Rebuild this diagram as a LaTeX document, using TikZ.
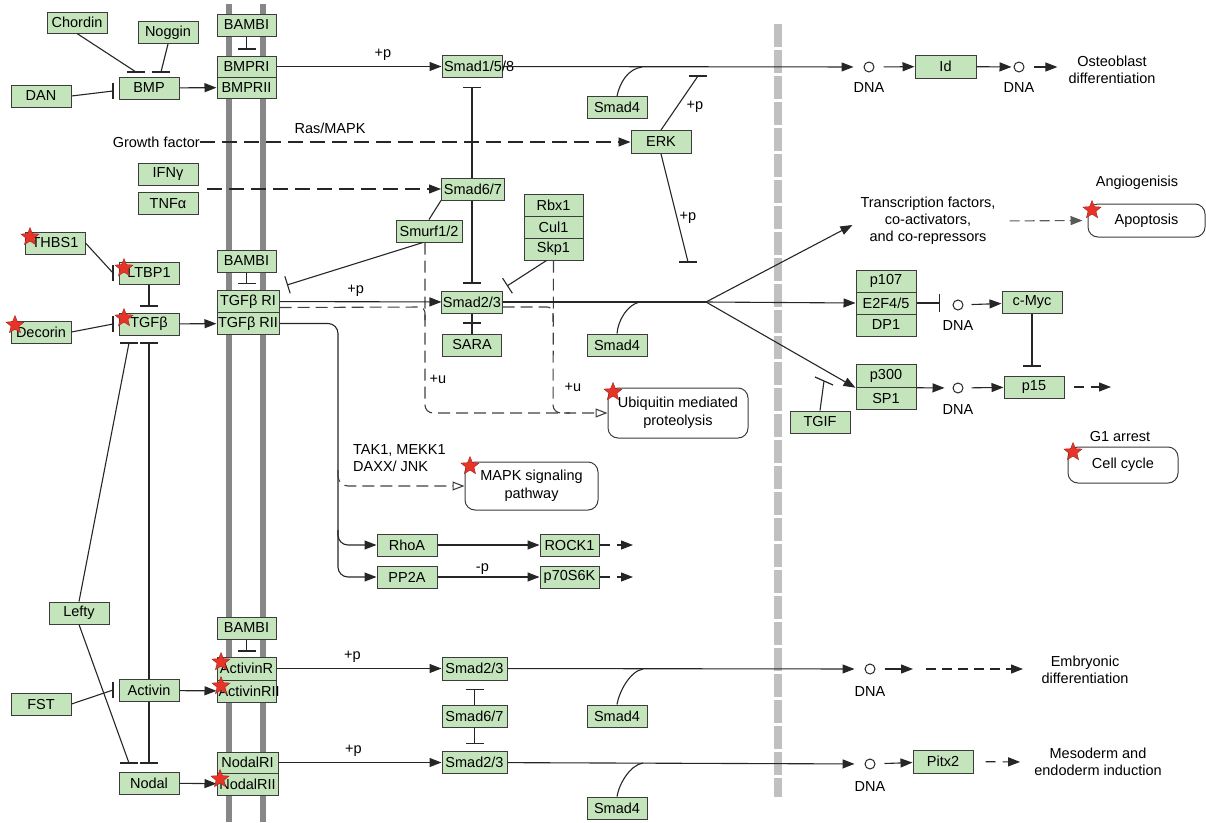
\documentclass[tikz,border=0pt]{standalone}
\usepackage{fontspec}
\setmainfont{Liberation Sans}
\usetikzlibrary{arrows.meta,shapes.geometric}
\definecolor{genegreen}{RGB}{196,229,187}
\definecolor{boxline}{RGB}{60,60,60}
\definecolor{membrane}{RGB}{135,135,135}
\definecolor{nucmem}{RGB}{192,192,192}
\definecolor{starred}{RGB}{232,52,40}
\newcommand{\barH}[1]{\draw[line width=1.2pt,black!85] ([xshift=-9pt]#1) -- ([xshift=9pt]#1);}
\newcommand{\barV}[1]{\draw[line width=1.2pt,black!85] ([yshift=-8pt]#1) -- ([yshift=8pt]#1);}

\begin{document}
\begin{tikzpicture}[x=1pt,y=-1pt,
	font=\fontsize{14.5}{17}\selectfont,
	gene/.style={draw=boxline, fill=genegreen, line width=1pt, minimum width=60pt, minimum height=22pt, inner sep=1pt},
	pathway/.style={draw=boxline, fill=white, line width=1pt, rounded corners=10pt, align=center, inner sep=1pt, font=\fontsize{14.5}{18}\selectfont},
	hit/.style={star, star points=5, star point ratio=2.3, fill=starred, draw=starred!70!black, minimum size=19pt, inner sep=0pt},
	dna/.style={circle, draw=black!85, line width=1pt, minimum size=10pt, inner sep=0pt},
	lbl/.style={inner sep=0pt},
	link/.style={line width=1.1pt, draw=black!85},
	act/.style={link, -{Triangle[length=12pt,width=9pt]}},
	inh/.style={link, -{Bar[width=18pt]}},
	dashact/.style={act, dash pattern=on 15pt off 7pt},
	shortdash/.style={act, dash pattern=on 10pt off 7pt},
	dline/.style={link, draw=black!75, dash pattern=on 12pt off 6pt},
	ubq/.style={dline, -{Triangle[open,length=12pt,width=9pt]}},
	]
	\useasboundingbox (0,0) rectangle (1206,822);
	\draw[draw=membrane, line width=6pt] (229,4) -- (229,822);
	\draw[draw=membrane, line width=6pt] (263,4) -- (263,822);
	\draw[draw=nucmem, line width=8pt, dash pattern=on 23pt off 3pt] (778,24) -- (778,797);

	\node[gene, minimum height=21pt] (chordin) at (77,22.5) {Chordin};
	\node[gene] (noggin) at (168,32.5) {Noggin};
	\node[gene] (dan) at (41,96) {DAN};
	\node[gene] (bmp) at (149,88) {BMP};
	\node[gene, minimum width=59pt] (bambia) at (246.5,25) {BAMBI};
	\node[gene, minimum width=59pt, minimum height=21pt] (bmpri) at (246.5,66.5) {BMPRI};
	\node[gene, minimum width=59pt, minimum height=21pt] (bmprii) at (246.5,87.5) {BMPRII};
	\node[gene] (ifng) at (168,174) {IFNγ};
	\node[gene] (tnfa) at (168,203.5) {TNFα};
	\node[lbl, anchor=east] (growth) at (200,142) {Growth factor};
	\node[lbl] (rasmapk) at (330,128) {Ras/MAPK};
	\node[gene] (smad158) at (472,66.5) {\makebox[56pt][l]{Smad1/5/8}};
	\node[gene] (smad4a) at (617,107.5) {Smad4};
	\node[gene, minimum height=23pt] (erk) at (661,142) {ERK};
	\node[gene, minimum width=63pt] (smad67a) at (473,189) {Smad6/7};
	\node[gene, minimum width=66pt] (smurf) at (429,231) {Smurf1/2};
	\node[gene, minimum width=59pt] (rbx1) at (553.5,205) {Rbx1};
	\node[gene, minimum width=59pt] (cul1) at (553.5,227) {Cul1};
	\node[gene, minimum width=59pt] (skp1) at (553.5,249) {Skp1};
	\node[gene] (thbs1) at (55,243) {THBS1};
	\node[gene] (ltbp1) at (149,273) {LTBP1};
	\node[gene] (tgfb) at (149,324) {TGFβ};
	\node[gene] (decorin) at (41,332) {Decorin};
	\node[gene, minimum width=59pt] (bambib) at (246.5,261) {BAMBI};
	\node[gene, minimum width=62pt, minimum height=21.5pt] (tgfri) at (248,301.5) {TGFβ RI};
	\node[gene, minimum width=62pt, minimum height=22pt] (tgfrii) at (248,323.5) {TGFβ RII};
	\node[gene, minimum width=59pt] (smad23b) at (472,302) {Smad2/3};
	\node[gene, minimum width=59pt] (sara) at (472,345) {SARA};
	\node[gene] (smad4b) at (617,345) {Smad4};
	\node[gene, minimum width=61pt, minimum height=23pt] (id) at (945.5,66.5) {Id};
	\node[gene] (p107) at (886,281) {p107};
	\node[gene] (e2f) at (886,303) {E2F4/5};
	\node[gene] (dp1) at (886,325) {DP1};
	\node[gene] (cmyc) at (1032,302.5) {c-Myc};
	\node[gene, minimum height=22.5pt] (p300) at (886,376) {p300};
	\node[gene, minimum height=22.5pt] (sp1) at (886,398.5) {SP1};
	\node[gene] (p15) at (1034,387) {p15};
	\node[gene] (tgif) at (820,422) {TGIF};
	\node[gene] (rhoa) at (407,545) {RhoA};
	\node[gene, minimum width=59pt] (rock1) at (569.5,545) {ROCK1};
	\node[gene] (pp2a) at (407,577) {PP2A};
	\node[gene, minimum width=59pt] (p70) at (569.5,577) {p70S6K};
	\node[gene] (lefty) at (79,613) {Lefty};
	\node[gene, minimum width=59pt] (bambic) at (246.5,628) {BAMBI};
	\node[gene, minimum width=59pt, minimum height=23pt] (activr) at (246.5,668.5) {ActivinR};
	\node[gene, minimum width=59pt] (activrii) at (246.5,691) {\makebox[56pt][l]{ActivinRII}};
	\node[gene] (activin) at (149,690.5) {Activin};
	\node[gene] (fst) at (41,704) {FST};
	\node[gene] (nodal) at (149,783) {Nodal};
	\node[gene, minimum width=61pt, minimum height=21pt] (nodalri) at (247.5,762.5) {NodalRI};
	\node[gene, minimum width=61pt] (nodalrii) at (247.5,784) {NodalRII};
	\node[gene, minimum width=65pt, minimum height=23pt] (smad23c) at (474.5,668.5) {Smad2/3};
	\node[gene, minimum width=65pt] (smad67c) at (474.5,716) {Smad6/7};
	\node[gene, minimum width=65pt] (smad23d) at (474.5,762.5) {Smad2/3};
	\node[gene] (smad4c) at (617,716) {Smad4};
	\node[gene] (smad4d) at (617,808) {Smad4};
	\node[gene, minimum height=23pt] (pitx2) at (943,761.5) {Pitx2};

	\node[pathway, minimum width=140pt, minimum height=50pt] (ubiq) at (678,413) {Ubiquitin mediated\\proteolysis};
	\node[pathway, minimum width=133pt, minimum height=48pt] (mapk) at (531.5,486) {MAPK signaling\\pathway};
	\node[pathway, minimum width=117pt, minimum height=33pt] (apop) at (1146.5,220.5) {Apoptosis};
	\node[pathway, minimum width=110pt, minimum height=36pt] (cellcyc) at (1123,465) {Cell cycle};

	\node[lbl, align=center] (osteo) at (1112,70) {Osteoblast\\differentiation};
	\node[lbl, align=center] (tfact) at (928,221) {Transcription factors,\\co-activators,\\and co-repressors};
	\node[lbl] (angio) at (1137,183) {Angiogenisis};
	\node[lbl] (gone) at (1120,436) {G1 arrest};
	\node[lbl, align=center] (embryo) at (1085,670) {Embryonic\\differentiation};
	\node[lbl, align=center] (meso) at (1098,762) {Mesoderm and\\endoderm induction};
	\node[lbl, align=left, anchor=north west] (tak1) at (353,444) {TAK1, MEKK1\\DAXX/ JNK};

	\node[dna] (dna1) at (869,67) {};
	\node[dna] (dna1b) at (1019,67) {};
	\node[dna] (dna2) at (958,305) {};
	\node[dna] (dna3) at (958,388) {};
	\node[dna] (dna4) at (870,669) {};
	\node[dna] (dna5) at (870,764) {};
	\node[lbl] (dnal1) at (869,88) {DNA};
	\node[lbl] (dnal1b) at (1019,88) {DNA};
	\node[lbl] (dnal2) at (958,326) {DNA};
	\node[lbl] (dnal3) at (958,410) {DNA};
	\node[lbl] (dnal4) at (870,691) {DNA};
	\node[lbl] (dnal5) at (870,786) {DNA};

	\coordinate (chbar) at (136,72);
	\coordinate (ngbar) at (161,72);
	\coordinate (danbar) at (113,91);
	\coordinate (thbar) at (113,273);
	\coordinate (dcbar) at (113,324);
	\coordinate (tgbarl) at (129,343);
	\coordinate (tgbarr) at (149,343);
	\coordinate (ndbarl) at (129,763);
	\coordinate (ndbarr) at (149,763);
	\coordinate (fstbar) at (113,690);
	\coordinate (erkbarup) at (698,76);
	\coordinate (erkbardn) at (688,262);
	\coordinate (smurfbar) at (287,285);
	\coordinate (skpbar) at (507,286);
	\coordinate (sarabar) at (472,323);
	\coordinate (tgifbar) at (824,381);
	\coordinate (e2fbar) at (940,303);
	\coordinate (branch) at (706,302);
	\coordinate (s4a) at (642,67);
	\coordinate (s4b) at (640,302);
	\coordinate (s4c) at (643,669);
	\coordinate (s4d) at (643,763);
	\coordinate (ifnj) at (207,189);
	\coordinate (p15out) at (1111,387);
	\coordinate (rockout) at (633,545);
	\coordinate (p70out) at (633,577);
	\coordinate (emb) at (913,669);
	\coordinate (embdash) at (926,669);
	\coordinate (embend) at (1023,669);

	\draw[link] (chordin.south) -- (chbar); \barH{chbar}
	\draw[link] (noggin.south) -- (ngbar); \barH{ngbar}
	\draw[link] (dan.east) -- (danbar); \barV{danbar}
	\draw[act] (bmp) -- (bmprii);
	\draw[inh, shorten >=6pt] (bambia) -- (bmpri);
	\draw[act] (bmpri) -- (smad158) node[lbl, pos=0.645, above=5pt] {+p};
	\draw[act, shorten >=10pt] (smad158) -- (dna1);
	\draw[link] (smad4a.north) .. controls (620,82) and (628,69) .. (s4a);
	\draw[inh, shorten >=9pt] (smad67a.north -| smad158) -- (smad158.south);
	\draw[act, shorten <=9pt] (dna1) -- (id);
	\draw[act, shorten >=2pt] (id) -- (dna1b);
	\draw[act, shorten <=9pt, shorten >=11pt] (dna1b) -- (dna1b -| osteo.west);
	\draw[dashact] (growth) -- (erk);
	\draw[dashact] (ifnj) -- (smad67a);
	\draw[link] (erk.north) -- (erkbarup); \barH{erkbarup}
	\draw[link] (erk.south) -- (erkbardn); \barH{erkbardn}
	\node[lbl] (plerka) at (695,107) {+p};
	\node[lbl] (plerkb) at (688,218) {+p};

	\draw[link] (smurf.north) -- (smad67a.south west);
	\draw[inh] ([xshift=-6pt]smurf.south) -- (smurfbar);
	\draw[inh, shorten >=7pt] (smad67a.south -| smad23b) -- (smad23b.north);
	\draw[inh] ([xshift=-7pt]skp1.south) -- (skpbar);
	\draw[link] (sara.north) -- (smad23b.south); \barH{sarabar}
	\draw[dline, rounded corners=6pt] ([yshift=-6pt]tgfri.east) -- (425,307) -- (425,322);
	\draw[dline, rounded corners=6pt] ([yshift=-5pt]smad23b.east) -- (553,307) -- (553,322);
	\draw[dline, rounded corners=8pt] (skp1.south) -- (553,413) -- (570,413);
	\draw[ubq, rounded corners=8pt] ([xshift=-4pt]smurf.south) -- (425,413) -- (ubiq.west);
	\node[lbl] (ua) at (438,379) {+u};
	\node[lbl] (ub) at (573,387) {+u};
	\draw[inh, shorten >=6pt] (bambib.south) -- (bambib.south |- tgfri.north);
	\draw[act] (tgfri) -- (smad23b) node[lbl, pos=0.47, above=5pt] {+p};
	\draw[link] (smad23b.east) -- (branch);
	\draw[link] (smad4b.north) .. controls (618,320) and (628,304) .. (s4b);
	\draw[act] (branch) -- (e2f.west);
	\draw[act] (branch) -- ([shift={(-8pt,-4pt)}]tfact.west);
	\draw[act] (branch) -- (p300.south west);
	\draw[act, draw=black!65, dash pattern=on 10pt off 5pt, shorten <=14pt, shorten >=5pt] (tfact.east) -- (apop.west);
	\draw[inh] (e2f.east) -- (e2fbar);
	\draw[act, shorten <=8pt] (dna2) -- (cmyc);
	\draw[inh, shorten >=9pt] (cmyc.south) -- (cmyc.south |- p15.north);
	\draw[act, shorten >=8pt] (p300.south east) -- (dna3);
	\draw[act, shorten <=8pt] (dna3) -- (p15);
	\draw[shortdash, shorten <=9pt] (p15) -- (p15out);
	\draw[link] (tgif.north) -- (tgifbar);
	\draw[line width=1.2pt, black!85] ([shift={(-9pt,4pt)}]tgifbar) -- ([shift={(9pt,-4pt)}]tgifbar);

	\draw[link] (thbs1.east) -- (thbar); \barV{thbar}
	\draw[inh, shorten >=6pt] (ltbp1) -- (tgfb);
	\draw[link] (decorin.east) -- (dcbar); \barV{dcbar}
	\draw[act] (tgfb) -- (tgfrii);
	\draw[link] (lefty.north) -- (tgbarl); \barH{tgbarl}
	\draw[link] (activin.north) -- (tgbarr); \barH{tgbarr}
	\draw[link] (lefty.south) -- (ndbarl); \barH{ndbarl}
	\draw[link] (activin.south) -- (ndbarr); \barH{ndbarr}
	\draw[link] (fst.east) -- (fstbar); \barV{fstbar}
	\draw[act] (activin) -- (activrii);
	\draw[act] (nodal) -- (nodalrii);
	\draw[inh, shorten >=5pt] (bambic) -- (activr);

	\draw[act, rounded corners=10pt] (tgfrii.east) -- (338,323.5) -- (338,577) -- (pp2a.west);
	\draw[act, rounded corners=10pt] (338,530) -- (338,545) -- (rhoa.west);
	\draw[ubq, rounded corners=10pt] (338,470) -- (338,486) -- (mapk.west);
	\draw[act] (rhoa) -- (rock1);
	\draw[act] (pp2a) -- (p70) node[lbl, pos=0.44, above=2pt] {-p};
	\draw[shortdash] (rock1) -- (rockout);
	\draw[shortdash] (p70) -- (p70out);

	\draw[act] (activr) -- (smad23c) node[lbl, pos=0.46, above=5pt] {+p};
	\draw[act, shorten >=10pt] (smad23c) -- (dna4);
	\draw[link] (smad4c.north) .. controls (619,692) and (630,671) .. (s4c);
	\draw[inh, shorten >=8pt] (smad67c.north) -- (smad23c.south);
	\draw[inh, shorten >=7pt] (smad67c.south) -- (smad23d.north);
	\draw[act, shorten <=9pt] (dna4) -- (emb);
	\draw[act, dash pattern=on 10pt off 6pt] (embdash) -- (embend);
	\draw[act] (nodalri) -- (smad23d) node[lbl, pos=0.46, above=5pt] {+p};
	\draw[act, shorten >=10pt] (smad23d) -- (dna5);
	\draw[link] (smad4d.north) .. controls (619,784) and (630,765) .. (s4d);
	\draw[act, shorten <=9pt] (dna5) -- (pitx2);
	\draw[shortdash, shorten <=12pt, shorten >=14pt] (pitx2) -- (meso.west);

	\node[hit] (hthbs1) at (30,237) {};
	\node[hit] (hltbp1) at (124,268) {};
	\node[hit] (htgfb) at (124,318) {};
	\node[hit] (hdecorin) at (15,325) {};
	\node[hit] (hapop) at (1092,210) {};
	\node[hit] (hubiq) at (613,392) {};
	\node[hit] (hmapk) at (470,466) {};
	\node[hit] (hcell) at (1073,452) {};
	\node[hit] (hactr) at (221,662) {};
	\node[hit] (hactrii) at (221,686) {};
	\node[hit] (hnodal) at (220,779) {};
\end{tikzpicture}
\end{document}
